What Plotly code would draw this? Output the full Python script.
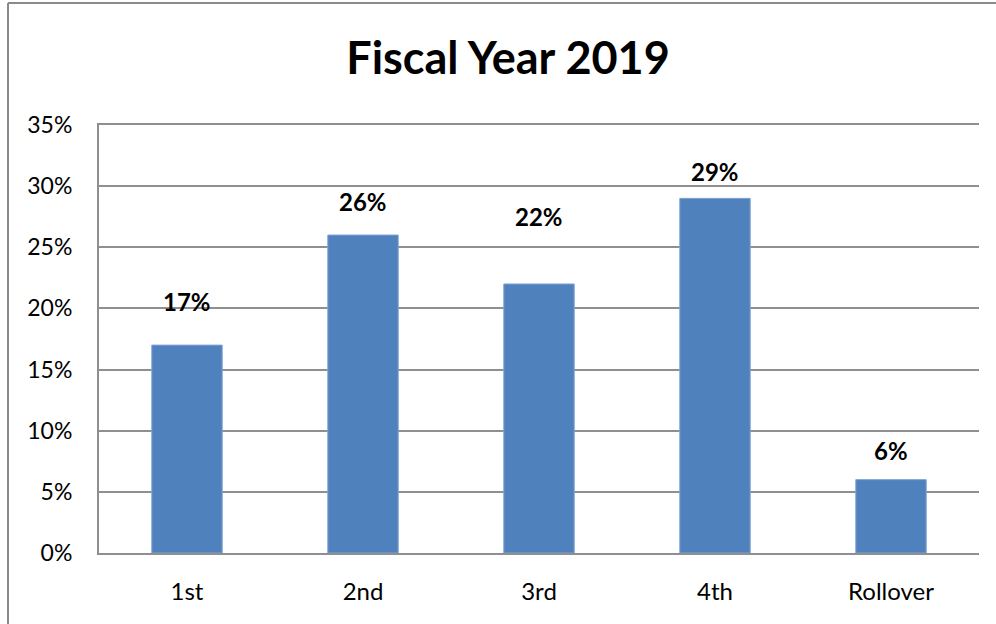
import plotly.graph_objects as go

categories = ["1st", "2nd", "3rd", "4th", "Rollover"]
values = [17, 26, 22, 29, 6]
labels = ["17%", "26%", "22%", "29%", "6%"]
y_ticks = [0, 5, 10, 15, 20, 25, 30, 35]
y_tick_labels = ["0%", "5%", "10%", "15%", "20%", "25%", "30%", "35%"]

# style: pixel offsets of data labels above bar tops
label_offsets = [44, 34, 67, 27, 29]

W, H = 996, 624
ML, MR, MT, MB = 99, 17, 125, 71
pw, ph = W - ML - MR, H - MT - MB

grid = "#8f8f8f"
font_family = "Lato, 'Open Sans', sans-serif"

fig = go.Figure()
fig.add_trace(go.Bar(
    x=categories, y=values,
    marker=dict(color="#4F81BD", line=dict(color="#7fa3d3", width=1)),
    width=0.4,
    hoverinfo="skip",
))

for c, v, t, off in zip(categories, values, labels, label_offsets):
    fig.add_annotation(x=c, y=v, text=t, showarrow=False, yshift=off,
                       yanchor="middle", xanchor="center",
                       font=dict(family=font_family, size=24, color="#000000", weight="bold"))

def px_x(p):
    return (p - ML) / pw

def px_y(p):
    return (H - MB - p) / ph

# outer chart border (top and left visible)
border = dict(color="#8a8a8a", width=2)
fig.add_shape(type="line", xref="paper", yref="paper",
              x0=px_x(8), x1=px_x(1000), y0=px_y(3), y1=px_y(3), line=border)
fig.add_shape(type="line", xref="paper", yref="paper",
              x0=px_x(8), x1=px_x(8), y0=px_y(3), y1=px_y(630), line=border)

fig.update_layout(
    width=W, height=H,
    margin=dict(l=ML, r=MR, t=MT, b=MB, pad=0),
    paper_bgcolor="white", plot_bgcolor="white",
    showlegend=False,
    title=dict(text="<b>Fiscal Year 2019</b>", x=px_x(508), xref="paper", xanchor="center",
               y=1 - 58 / H, yref="container", yanchor="middle",
               font=dict(family=font_family, size=45, color="#000000")),
    font=dict(family=font_family, size=23, color="#000000"),
    xaxis=dict(
        showgrid=False, showline=True, linecolor=grid, linewidth=2, mirror=True,
        ticks="", ticklabelstandoff=16,
        tickfont=dict(family=font_family, size=24, color="#000000"),
    ),
    yaxis=dict(
        range=[0, 35], tickvals=y_ticks, ticktext=y_tick_labels,
        showgrid=True, gridcolor=grid, gridwidth=2,
        showline=True, linecolor=grid, linewidth=2,
        zeroline=False, ticks="", ticklabelstandoff=20,
        tickfont=dict(family=font_family, size=23, color="#000000"),
    ),
)

fig.write_html("out.html",
               config={"displayModeBar": False},
               post_script="document.body.style.margin='0px';document.body.style.overflow='hidden';")
